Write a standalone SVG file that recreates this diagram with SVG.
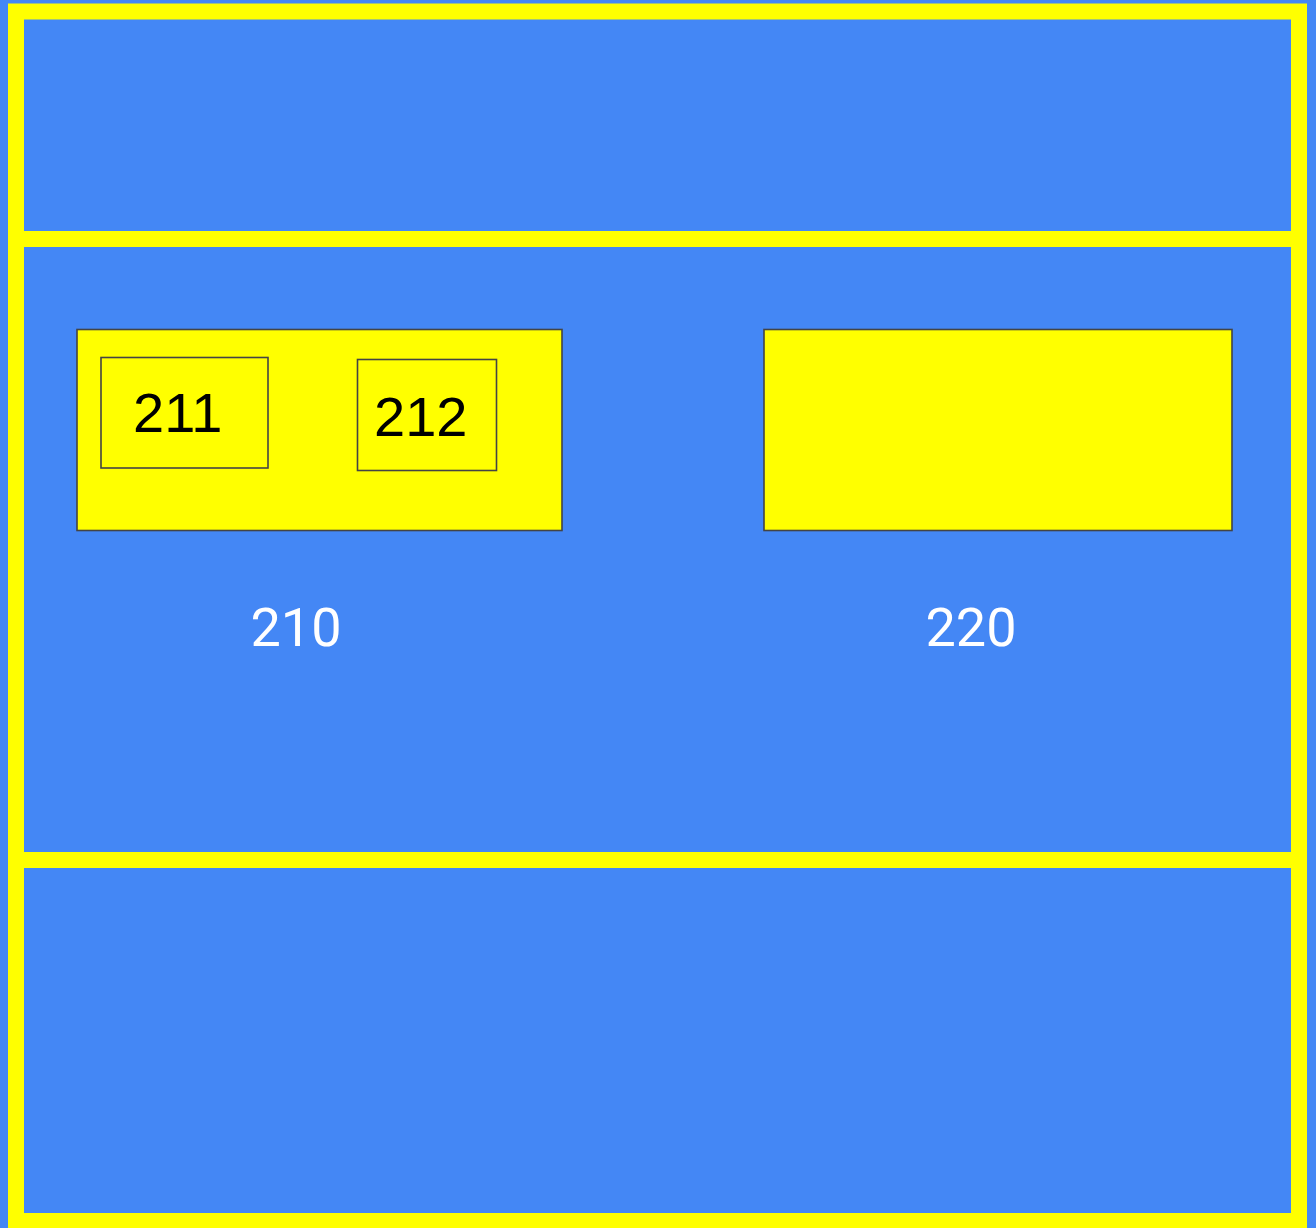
<svg xmlns="http://www.w3.org/2000/svg" width="1316" height="1228" viewBox="0 0 1316 1228">
<style>
.band{fill:none;stroke:#ffff00;stroke-width:16}
.box{fill:#ffff00;stroke:#444444;stroke-width:1.6}
.inner{fill:none;stroke:#444444;stroke-width:1.6}
.num{font-family:"Liberation Sans",Arial,sans-serif;font-size:56px;fill:#000000}
.lbl{font-family:Roboto,"Liberation Sans",sans-serif;font-size:54px;fill:#ffffff;text-anchor:middle}
</style>
<rect x="0" y="0" width="1316" height="1228" fill="#4487f5"/>
<g id="sections">
<rect class="band" x="16" y="11.5" width="1283" height="227.5"/>
<rect class="band" x="16" y="239" width="1283" height="621"/>
<rect class="band" x="16" y="860" width="1283" height="361"/>
</g>
<g id="node-210">
<rect class="box" x="77" y="329.5" width="485" height="201"/>
<text class="lbl" x="296" y="646">210</text>
</g>
<g id="node-211">
<rect class="inner" x="101" y="357.5" width="167" height="110.5"/>
<text class="num" x="133" y="432">211</text>
</g>
<g id="node-212">
<rect class="inner" x="357.5" y="359.5" width="139" height="111"/>
<text class="num" x="374" y="435.5">212</text>
</g>
<g id="node-220">
<rect class="box" x="764" y="329.5" width="468" height="201"/>
<text class="lbl" x="971" y="646">220</text>
</g>
<g id="connectors"></g>
</svg>
